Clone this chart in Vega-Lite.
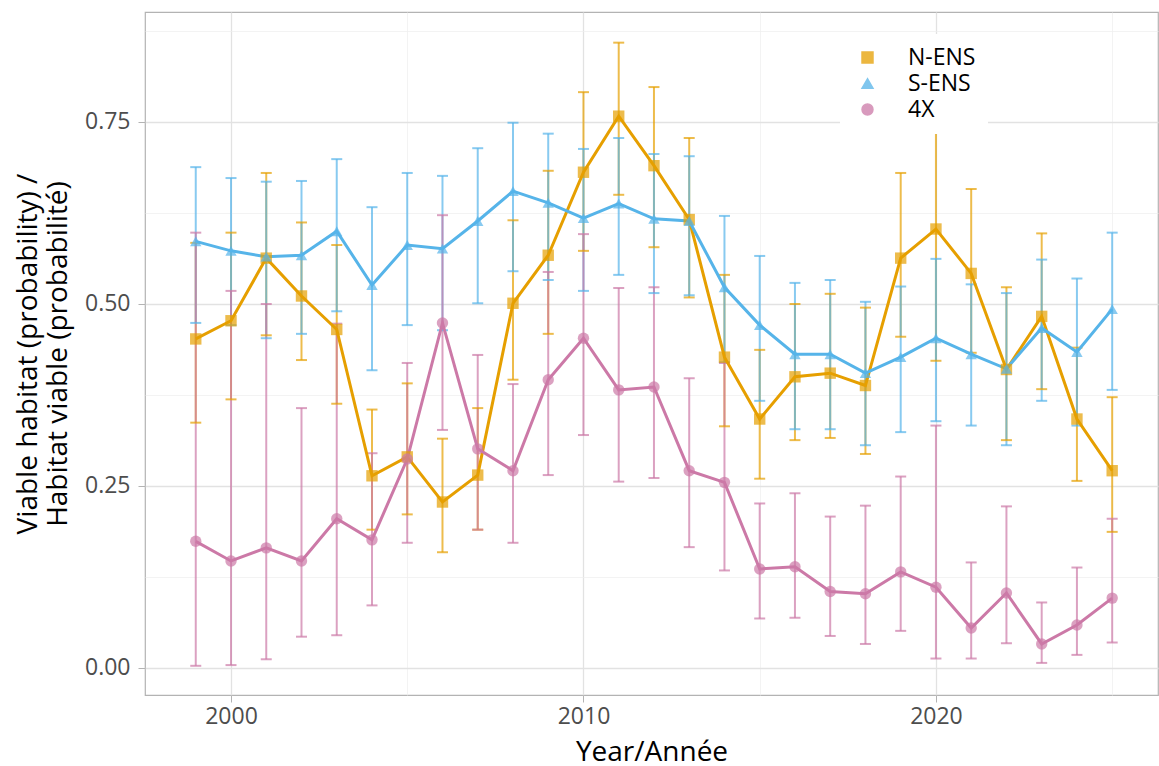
{
  "$schema": "https://vega.github.io/schema/vega-lite/v6.json",
  "width": 1013,
  "height": 683,
  "autosize": {"type": "none"},
  "padding": {"left": 145, "top": 12, "right": 1, "bottom": 71},
  "background": "white",
  "config": {
    "font": "Open Sans",
    "view": {"stroke": "#B3B3B3", "strokeWidth": 1.2},
    "legend": {
      "fillColor": "white",
      "padding": 12,
      "labelFontSize": 23,
      "labelColor": "black",
      "labelOffset": 29,
      "symbolSize": 120,
      "symbolOffset": 4,
      "rowPadding": 2,
      "symbolOpacity": 0.75
    }
  },
  "datasets": {
    "d": [
      {"year": 1999, "series": "N-ENS", "mean": 0.452, "lo": 0.337, "hi": 0.584},
      {"year": 2000, "series": "N-ENS", "mean": 0.477, "lo": 0.369, "hi": 0.598},
      {"year": 2001, "series": "N-ENS", "mean": 0.563, "lo": 0.457, "hi": 0.680},
      {"year": 2002, "series": "N-ENS", "mean": 0.511, "lo": 0.423, "hi": 0.612},
      {"year": 2003, "series": "N-ENS", "mean": 0.465, "lo": 0.363, "hi": 0.581},
      {"year": 2004, "series": "N-ENS", "mean": 0.264, "lo": 0.190, "hi": 0.355},
      {"year": 2005, "series": "N-ENS", "mean": 0.290, "lo": 0.211, "hi": 0.391},
      {"year": 2006, "series": "N-ENS", "mean": 0.228, "lo": 0.159, "hi": 0.315},
      {"year": 2007, "series": "N-ENS", "mean": 0.265, "lo": 0.190, "hi": 0.357},
      {"year": 2008, "series": "N-ENS", "mean": 0.501, "lo": 0.396, "hi": 0.615},
      {"year": 2009, "series": "N-ENS", "mean": 0.567, "lo": 0.459, "hi": 0.683},
      {"year": 2010, "series": "N-ENS", "mean": 0.681, "lo": 0.573, "hi": 0.791},
      {"year": 2011, "series": "N-ENS", "mean": 0.758, "lo": 0.650, "hi": 0.859},
      {"year": 2012, "series": "N-ENS", "mean": 0.690, "lo": 0.578, "hi": 0.798},
      {"year": 2013, "series": "N-ENS", "mean": 0.616, "lo": 0.509, "hi": 0.728},
      {"year": 2014, "series": "N-ENS", "mean": 0.427, "lo": 0.332, "hi": 0.540},
      {"year": 2015, "series": "N-ENS", "mean": 0.342, "lo": 0.260, "hi": 0.437},
      {"year": 2016, "series": "N-ENS", "mean": 0.400, "lo": 0.313, "hi": 0.500},
      {"year": 2017, "series": "N-ENS", "mean": 0.405, "lo": 0.316, "hi": 0.514},
      {"year": 2018, "series": "N-ENS", "mean": 0.388, "lo": 0.294, "hi": 0.495},
      {"year": 2019, "series": "N-ENS", "mean": 0.563, "lo": 0.455, "hi": 0.680},
      {"year": 2020, "series": "N-ENS", "mean": 0.603, "lo": 0.422, "hi": 0.780},
      {"year": 2021, "series": "N-ENS", "mean": 0.542, "lo": 0.433, "hi": 0.658},
      {"year": 2022, "series": "N-ENS", "mean": 0.410, "lo": 0.313, "hi": 0.523},
      {"year": 2023, "series": "N-ENS", "mean": 0.483, "lo": 0.383, "hi": 0.597},
      {"year": 2024, "series": "N-ENS", "mean": 0.342, "lo": 0.257, "hi": 0.440},
      {"year": 2025, "series": "N-ENS", "mean": 0.271, "lo": 0.187, "hi": 0.372},
      {"year": 1999, "series": "S-ENS", "mean": 0.586, "lo": 0.474, "hi": 0.688},
      {"year": 2000, "series": "S-ENS", "mean": 0.573, "lo": 0.471, "hi": 0.673},
      {"year": 2001, "series": "S-ENS", "mean": 0.565, "lo": 0.453, "hi": 0.668},
      {"year": 2002, "series": "S-ENS", "mean": 0.567, "lo": 0.459, "hi": 0.669},
      {"year": 2003, "series": "S-ENS", "mean": 0.600, "lo": 0.490, "hi": 0.699},
      {"year": 2004, "series": "S-ENS", "mean": 0.526, "lo": 0.409, "hi": 0.633},
      {"year": 2005, "series": "S-ENS", "mean": 0.581, "lo": 0.471, "hi": 0.680},
      {"year": 2006, "series": "S-ENS", "mean": 0.576, "lo": 0.464, "hi": 0.676},
      {"year": 2007, "series": "S-ENS", "mean": 0.614, "lo": 0.501, "hi": 0.714},
      {"year": 2008, "series": "S-ENS", "mean": 0.655, "lo": 0.545, "hi": 0.749},
      {"year": 2009, "series": "S-ENS", "mean": 0.639, "lo": 0.533, "hi": 0.734},
      {"year": 2010, "series": "S-ENS", "mean": 0.618, "lo": 0.518, "hi": 0.713},
      {"year": 2011, "series": "S-ENS", "mean": 0.638, "lo": 0.540, "hi": 0.728},
      {"year": 2012, "series": "S-ENS", "mean": 0.617, "lo": 0.515, "hi": 0.706},
      {"year": 2013, "series": "S-ENS", "mean": 0.614, "lo": 0.512, "hi": 0.703},
      {"year": 2014, "series": "S-ENS", "mean": 0.523, "lo": 0.420, "hi": 0.621},
      {"year": 2015, "series": "S-ENS", "mean": 0.471, "lo": 0.367, "hi": 0.566},
      {"year": 2016, "series": "S-ENS", "mean": 0.431, "lo": 0.328, "hi": 0.529},
      {"year": 2017, "series": "S-ENS", "mean": 0.431, "lo": 0.328, "hi": 0.533},
      {"year": 2018, "series": "S-ENS", "mean": 0.405, "lo": 0.306, "hi": 0.503},
      {"year": 2019, "series": "S-ENS", "mean": 0.427, "lo": 0.324, "hi": 0.524},
      {"year": 2020, "series": "S-ENS", "mean": 0.453, "lo": 0.339, "hi": 0.562},
      {"year": 2021, "series": "S-ENS", "mean": 0.431, "lo": 0.333, "hi": 0.527},
      {"year": 2022, "series": "S-ENS", "mean": 0.411, "lo": 0.306, "hi": 0.515},
      {"year": 2023, "series": "S-ENS", "mean": 0.467, "lo": 0.367, "hi": 0.561},
      {"year": 2024, "series": "S-ENS", "mean": 0.434, "lo": 0.333, "hi": 0.535},
      {"year": 2025, "series": "S-ENS", "mean": 0.493, "lo": 0.382, "hi": 0.598},
      {"year": 1999, "series": "4X", "mean": 0.174, "lo": 0.003, "hi": 0.598},
      {"year": 2000, "series": "4X", "mean": 0.147, "lo": 0.004, "hi": 0.518},
      {"year": 2001, "series": "4X", "mean": 0.165, "lo": 0.012, "hi": 0.500},
      {"year": 2002, "series": "4X", "mean": 0.147, "lo": 0.043, "hi": 0.357},
      {"year": 2003, "series": "4X", "mean": 0.205, "lo": 0.045, "hi": 0.473},
      {"year": 2004, "series": "4X", "mean": 0.176, "lo": 0.086, "hi": 0.295},
      {"year": 2005, "series": "4X", "mean": 0.287, "lo": 0.172, "hi": 0.419},
      {"year": 2006, "series": "4X", "mean": 0.474, "lo": 0.327, "hi": 0.622},
      {"year": 2007, "series": "4X", "mean": 0.301, "lo": 0.190, "hi": 0.430},
      {"year": 2008, "series": "4X", "mean": 0.271, "lo": 0.172, "hi": 0.390},
      {"year": 2009, "series": "4X", "mean": 0.396, "lo": 0.265, "hi": 0.544},
      {"year": 2010, "series": "4X", "mean": 0.453, "lo": 0.320, "hi": 0.596},
      {"year": 2011, "series": "4X", "mean": 0.382, "lo": 0.256, "hi": 0.522},
      {"year": 2012, "series": "4X", "mean": 0.386, "lo": 0.261, "hi": 0.523},
      {"year": 2013, "series": "4X", "mean": 0.271, "lo": 0.166, "hi": 0.398},
      {"year": 2014, "series": "4X", "mean": 0.255, "lo": 0.134, "hi": 0.419},
      {"year": 2015, "series": "4X", "mean": 0.136, "lo": 0.068, "hi": 0.226},
      {"year": 2016, "series": "4X", "mean": 0.139, "lo": 0.069, "hi": 0.240},
      {"year": 2017, "series": "4X", "mean": 0.105, "lo": 0.044, "hi": 0.208},
      {"year": 2018, "series": "4X", "mean": 0.102, "lo": 0.033, "hi": 0.223},
      {"year": 2019, "series": "4X", "mean": 0.132, "lo": 0.051, "hi": 0.263},
      {"year": 2020, "series": "4X", "mean": 0.111, "lo": 0.013, "hi": 0.333},
      {"year": 2021, "series": "4X", "mean": 0.055, "lo": 0.013, "hi": 0.145},
      {"year": 2022, "series": "4X", "mean": 0.103, "lo": 0.034, "hi": 0.222},
      {"year": 2023, "series": "4X", "mean": 0.033, "lo": 0.007, "hi": 0.090},
      {"year": 2024, "series": "4X", "mean": 0.059, "lo": 0.018, "hi": 0.138},
      {"year": 2025, "series": "4X", "mean": 0.096, "lo": 0.035, "hi": 0.205}
    ]
  },
  "data": {"name": "d"},
  "encoding": {
    "x": {
      "field": "year",
      "type": "quantitative",
      "scale": {"domain": [1997.56, 2026.3], "nice": false, "zero": false},
      "axis": {
        "title": "Year/Année",
        "titleFontSize": 28,
        "titleFontWeight": "normal",
        "titleColor": "black",
        "titlePadding": 10,
        "values": [2000, 2005, 2010, 2015, 2020, 2025],
        "labelExpr": "datum.value % 10 == 5 ? '' : format(datum.value, 'd')",
        "labelFontSize": 23,
        "labelColor": "#4D4D4D",
        "labelPadding": 3,
        "domain": false,
        "tickColor": "#B3B3B3",
        "tickSize": {"condition": {"test": "datum.value % 10 == 5", "value": 0}, "value": 7},
        "gridColor": {"condition": {"test": "datum.value % 10 == 5", "value": "#EEEEEE"}, "value": "#E2E2E2"},
        "gridWidth": {"condition": {"test": "datum.value % 10 == 5", "value": 0.7}, "value": 1.3}
      }
    },
    "color": {
      "field": "series",
      "type": "nominal",
      "scale": {"domain": ["N-ENS", "S-ENS", "4X"], "range": ["#E69F00", "#56B4E9", "#CC79A7"]},
      "legend": {"title": null, "orient": "none", "legendX": 695, "legendY": 22}
    }
  },
  "layer": [
    {
      "mark": {"type": "rule", "strokeWidth": 2, "opacity": 0.7},
      "encoding": {
        "y": {
          "field": "lo",
          "type": "quantitative",
          "scale": {"domain": [-0.0371, 0.9011], "nice": false, "zero": false},
          "axis": {
            "title": ["Viable habitat (probability) /", "Habitat viable (probabilité)"],
            "titleFontSize": 28, "titleFontWeight": "normal", "titleColor": "black", "titlePadding": 12,
            "values": [0, 0.125, 0.25, 0.375, 0.5, 0.625, 0.75, 0.875],
            "labelExpr": "round(datum.value * 8) % 2 == 1 ? '' : format(datum.value, '.2f')",
            "labelFontSize": 23, "labelColor": "#4D4D4D", "labelPadding": 8, "domain": false, "tickColor": "#B3B3B3",
            "tickSize": {"condition": {"test": "round(datum.value * 8) % 2 == 1", "value": 0}, "value": 7},
            "gridColor": {"condition": {"test": "round(datum.value * 8) % 2 == 1", "value": "#EEEEEE"}, "value": "#E2E2E2"},
            "gridWidth": {"condition": {"test": "round(datum.value * 8) % 2 == 1", "value": 0.7}, "value": 1.3}
          }
        },
        "y2": {"field": "hi"}
      }
    },
    {
      "mark": {"type": "tick", "orient": "horizontal", "size": 11, "thickness": 2, "opacity": 0.7},
      "encoding": {
        "y": {
          "field": "lo",
          "type": "quantitative",
          "scale": {"domain": [-0.0371, 0.9011], "nice": false, "zero": false},
          "axis": {
            "title": ["Viable habitat (probability) /", "Habitat viable (probabilité)"],
            "titleFontSize": 28, "titleFontWeight": "normal", "titleColor": "black", "titlePadding": 12,
            "values": [0, 0.125, 0.25, 0.375, 0.5, 0.625, 0.75, 0.875],
            "labelExpr": "round(datum.value * 8) % 2 == 1 ? '' : format(datum.value, '.2f')",
            "labelFontSize": 23, "labelColor": "#4D4D4D", "labelPadding": 8, "domain": false, "tickColor": "#B3B3B3",
            "tickSize": {"condition": {"test": "round(datum.value * 8) % 2 == 1", "value": 0}, "value": 7},
            "gridColor": {"condition": {"test": "round(datum.value * 8) % 2 == 1", "value": "#EEEEEE"}, "value": "#E2E2E2"},
            "gridWidth": {"condition": {"test": "round(datum.value * 8) % 2 == 1", "value": 0.7}, "value": 1.3}
          }
        }
      }
    },
    {
      "mark": {"type": "tick", "orient": "horizontal", "size": 11, "thickness": 2, "opacity": 0.7},
      "encoding": {
        "y": {
          "field": "hi",
          "type": "quantitative",
          "scale": {"domain": [-0.0371, 0.9011], "nice": false, "zero": false},
          "axis": {
            "title": ["Viable habitat (probability) /", "Habitat viable (probabilité)"],
            "titleFontSize": 28, "titleFontWeight": "normal", "titleColor": "black", "titlePadding": 12,
            "values": [0, 0.125, 0.25, 0.375, 0.5, 0.625, 0.75, 0.875],
            "labelExpr": "round(datum.value * 8) % 2 == 1 ? '' : format(datum.value, '.2f')",
            "labelFontSize": 23, "labelColor": "#4D4D4D", "labelPadding": 8, "domain": false, "tickColor": "#B3B3B3",
            "tickSize": {"condition": {"test": "round(datum.value * 8) % 2 == 1", "value": 0}, "value": 7},
            "gridColor": {"condition": {"test": "round(datum.value * 8) % 2 == 1", "value": "#EEEEEE"}, "value": "#E2E2E2"},
            "gridWidth": {"condition": {"test": "round(datum.value * 8) % 2 == 1", "value": 0.7}, "value": 1.3}
          }
        }
      }
    },
    {
      "mark": {"type": "line", "strokeWidth": 3},
      "encoding": {
        "y": {
          "field": "mean",
          "type": "quantitative",
          "scale": {"domain": [-0.0371, 0.9011], "nice": false, "zero": false},
          "axis": {
            "title": ["Viable habitat (probability) /", "Habitat viable (probabilité)"],
            "titleFontSize": 28, "titleFontWeight": "normal", "titleColor": "black", "titlePadding": 12,
            "values": [0, 0.125, 0.25, 0.375, 0.5, 0.625, 0.75, 0.875],
            "labelExpr": "round(datum.value * 8) % 2 == 1 ? '' : format(datum.value, '.2f')",
            "labelFontSize": 23, "labelColor": "#4D4D4D", "labelPadding": 8, "domain": false, "tickColor": "#B3B3B3",
            "tickSize": {"condition": {"test": "round(datum.value * 8) % 2 == 1", "value": 0}, "value": 7},
            "gridColor": {"condition": {"test": "round(datum.value * 8) % 2 == 1", "value": "#EEEEEE"}, "value": "#E2E2E2"},
            "gridWidth": {"condition": {"test": "round(datum.value * 8) % 2 == 1", "value": 0.7}, "value": 1.3}
          }
        }
      }
    },
    {
      "mark": {"type": "point", "filled": true, "opacity": 0.7, "size": 130},
      "encoding": {
        "y": {
          "field": "mean",
          "type": "quantitative",
          "scale": {"domain": [-0.0371, 0.9011], "nice": false, "zero": false},
          "axis": {
            "title": ["Viable habitat (probability) /", "Habitat viable (probabilité)"],
            "titleFontSize": 28, "titleFontWeight": "normal", "titleColor": "black", "titlePadding": 12,
            "values": [0, 0.125, 0.25, 0.375, 0.5, 0.625, 0.75, 0.875],
            "labelExpr": "round(datum.value * 8) % 2 == 1 ? '' : format(datum.value, '.2f')",
            "labelFontSize": 23, "labelColor": "#4D4D4D", "labelPadding": 8, "domain": false, "tickColor": "#B3B3B3",
            "tickSize": {"condition": {"test": "round(datum.value * 8) % 2 == 1", "value": 0}, "value": 7},
            "gridColor": {"condition": {"test": "round(datum.value * 8) % 2 == 1", "value": "#EEEEEE"}, "value": "#E2E2E2"},
            "gridWidth": {"condition": {"test": "round(datum.value * 8) % 2 == 1", "value": 0.7}, "value": 1.3}
          }
        },
        "shape": {
          "field": "series",
          "type": "nominal",
          "scale": {"domain": ["N-ENS", "S-ENS", "4X"], "range": ["square", "triangle-up", "circle"]},
          "legend": {"title": null, "orient": "none", "legendX": 695, "legendY": 22}
        }
      }
    }
  ]
}
